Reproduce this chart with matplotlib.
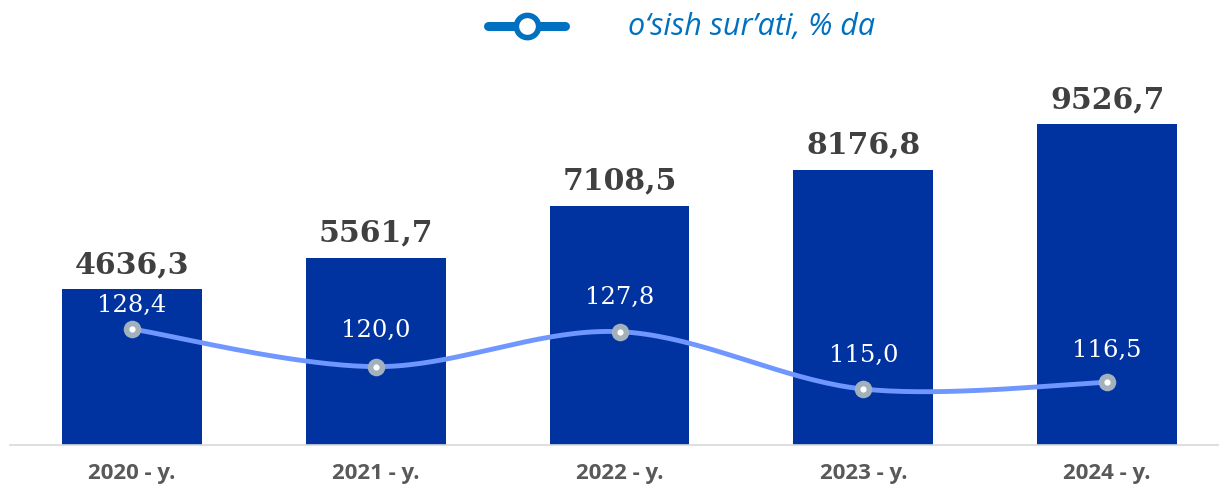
import matplotlib
matplotlib.use('Agg')
import matplotlib.pyplot as plt
from matplotlib.lines import Line2D
import numpy as np

years = ['2020 - y.', '2021 - y.', '2022 - y.', '2023 - y.', '2024 - y.']
volume = [4636.3, 5561.7, 7108.5, 8176.8, 9526.7]
growth = [128.4, 120.0, 127.8, 115.0, 116.5]
legend_label = 'o‘sish sur’ati, % da'

bar_color = '#0033a0'
line_color = '#6f97ff'
W, H = 1219, 489


def fmt(v):
    return ('%.1f' % v).replace('.', ',')


def smooth(xs, ys, n=40):
    # catmull-rom style bezier, like excel smoothed lines
    pts = np.column_stack([xs, ys]).astype(float)
    out = []
    for i in range(len(pts) - 1):
        p0 = pts[max(i - 1, 0)]
        p1 = pts[i]
        p2 = pts[i + 1]
        p3 = pts[min(i + 2, len(pts) - 1)]
        c1 = p1 + (p2 - p0) / 6
        c2 = p2 - (p3 - p1) / 6
        t = np.linspace(0, 1, n)[:, None]
        seg = ((1 - t) ** 3) * p1 + 3 * ((1 - t) ** 2) * t * c1 + 3 * (1 - t) * t ** 2 * c2 + t ** 3 * p2
        out.append(seg)
    seg = np.vstack(out)
    return seg[:, 0], seg[:, 1]


fig = plt.figure(figsize=(W / 100, H / 100), dpi=100)
# axes in pixels: left 10, right 1229, bottom 446, top 60
ax = fig.add_axes([10 / W, (H - 446) / H, 1219 / W, 386 / H])
x = np.arange(len(years))
ax.bar(x, volume, width=0.574, color=bar_color, zorder=2)
ax.set_xlim(-0.5, 4.5)
ax.set_ylim(0, 386 / 0.03365)
for s in ['top', 'right', 'left']:
    ax.spines[s].set_visible(False)
ax.spines['bottom'].set_color('#d9d9d9')
ax.spines['bottom'].set_linewidth(1.2)
ax.set_yticks([])
ax.set_xticks(x)
ax.set_xticklabels(years, fontsize=16, fontweight='bold', color='#595959', family='Open Sans')
ax.tick_params(axis='x', length=0, pad=12)

for xi, v in zip(x, volume):
    ax.annotate(fmt(v), (xi, v), xytext=(0, 8), textcoords='offset points',
                ha='center', va='bottom', fontsize=21.5, fontweight='bold',
                color='#404040', family='DejaVu Serif')

ax2 = ax.twinx()
ax2.set_ylim(128.4 - 116 / 4.48, 128.4 + 270 / 4.48)
ax2.set_xlim(-0.5, 4.5)
ax2.axis('off')
sx, sy = smooth(x, growth)
ax2.plot(sx, sy, color=line_color, lw=3.5, zorder=3, solid_capstyle='round')
ax2.scatter(x, growth, s=160, color='#a3b1bd', zorder=4, linewidths=0)
ax2.scatter(x, growth, s=20, color='white', zorder=5, linewidths=0)
offsets = [18, 27, 25, 25, 24]
for xi, v, off in zip(x, growth, offsets):
    ax2.annotate(fmt(v), (xi, v), xytext=(0, off), textcoords='offset points',
                 ha='center', va='center', fontsize=17.5, color='white',
                 family='DejaVu Serif')

# legend
fig.add_artist(Line2D([488 / W, 565 / W], [(H - 27) / H] * 2, color='#0070c0', lw=6.5,
                      solid_capstyle='round'))
fig.add_artist(Line2D([527 / W], [(H - 27) / H], marker='o', markersize=16,
                      markerfacecolor='white', markeredgecolor='#0070c0',
                      markeredgewidth=4))
fig.text(628 / W, (H - 27) / H, legend_label, fontsize=22, style='italic',
         color='#0070c0', va='center', ha='left', family='Open Sans')

fig.savefig('out.png', dpi=100)
